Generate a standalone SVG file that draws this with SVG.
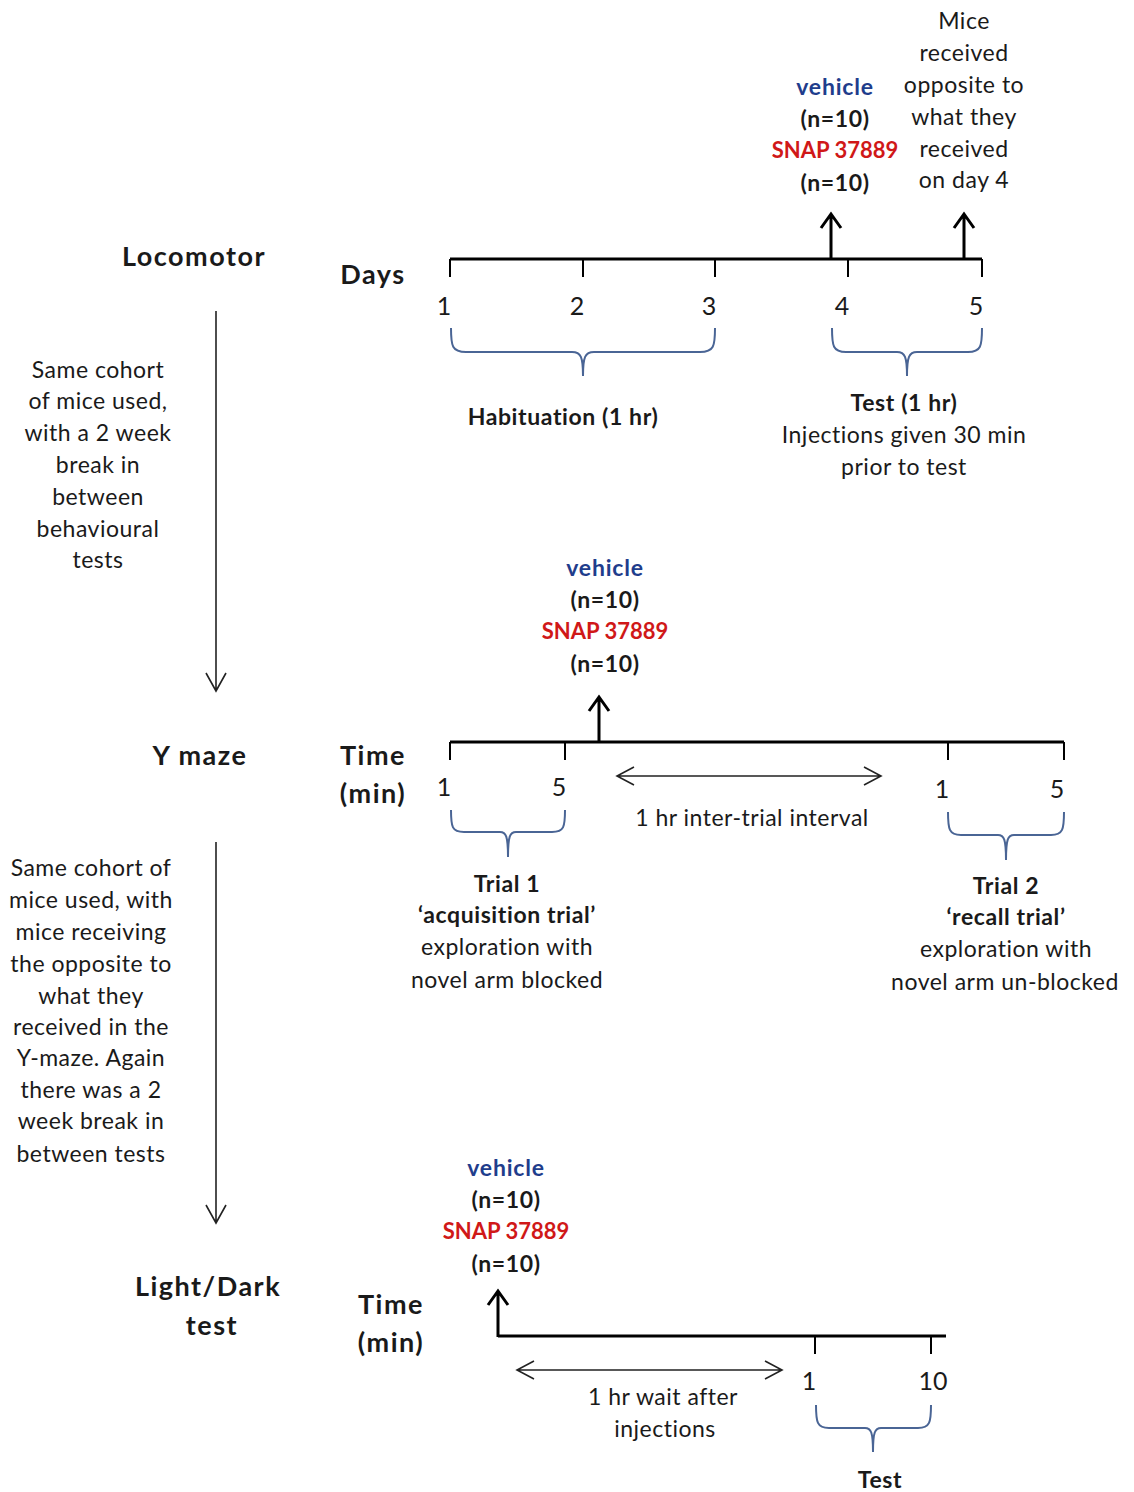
<svg xmlns="http://www.w3.org/2000/svg" width="1134" height="1492" viewBox="0 0 1134 1492">
<style>
text{font-family:Lato,"Liberation Sans",sans-serif;font-size:23px;letter-spacing:0.5px;fill:#1a1a1a;text-anchor:middle}
.b{font-weight:bold;letter-spacing:0.6px}
.h{font-weight:bold;font-size:27px;letter-spacing:1.5px}
.num{font-size:25px;letter-spacing:0}
.blue{fill:#1f3d8c;font-weight:bold;letter-spacing:0.8px}
.red{fill:#d01818;font-weight:bold;font-size:22px;letter-spacing:0}
.axis{stroke:#000;stroke-width:3;fill:none}
.tick{stroke:#000;stroke-width:2;fill:none}
.up{stroke:#000;stroke-width:3;fill:none}
.thin{stroke:#222;stroke-width:1.6;fill:none}
.brace{stroke:#4a6595;stroke-width:2;fill:none}
</style>
<rect width="1134" height="1492" fill="#fff"/>

<g id="locomotor">
<text class="h" x="194" y="266">Locomotor</text>
<text class="h" x="373" y="284">Days</text>
<text class="num" x="444" y="315">1</text>
<text class="num" x="577" y="315">2</text>
<text class="num" x="709" y="315">3</text>
<text class="num" x="842" y="315">4</text>
<text class="num" x="976" y="315">5</text>
<text class="blue" x="835" y="95">vehicle</text>
<text class="b" x="835" y="127">(n=10)</text>
<text class="red" x="835" y="158">SNAP 37889</text>
<text class="b" x="835" y="191">(n=10)</text>
<text x="964" y="29">Mice</text>
<text x="964" y="61">received</text>
<text x="964" y="93">opposite to</text>
<text x="964" y="125">what they</text>
<text x="964" y="157">received</text>
<text x="964" y="188">on day 4</text>
<text class="b" x="563" y="425">Habituation (1 hr)</text>
<text class="b" x="904" y="411">Test (1 hr)</text>
<text x="904" y="443">Injections given 30 min</text>
<text x="904" y="475">prior to test</text>
</g>

<g id="note1">
<text x="98" y="378">Same cohort</text>
<text x="98" y="409">of mice used,</text>
<text x="98" y="441">with a 2 week</text>
<text x="98" y="473">break in</text>
<text x="98" y="505">between</text>
<text x="98" y="537">behavioural</text>
<text x="98" y="568">tests</text>
</g>

<g id="ymaze">
<text class="h" x="200" y="765">Y maze</text>
<text class="h" x="373" y="765">Time</text>
<text class="h" x="373" y="803">(min)</text>
<text class="num" x="444" y="796">1</text>
<text class="num" x="559" y="796">5</text>
<text class="num" x="942" y="798">1</text>
<text class="num" x="1057" y="798">5</text>
<text class="blue" x="605" y="576">vehicle</text>
<text class="b" x="605" y="608">(n=10)</text>
<text class="red" x="605" y="639">SNAP 37889</text>
<text class="b" x="605" y="672">(n=10)</text>
<text x="752" y="826">1 hr inter-trial interval</text>
<text class="b" x="507" y="892">Trial 1</text>
<text class="b" x="507" y="923">‘acquisition trial’</text>
<text x="507" y="955">exploration with</text>
<text x="507" y="988">novel arm blocked</text>
<text class="b" x="1006" y="894">Trial 2</text>
<text class="b" x="1006" y="925">‘recall trial’</text>
<text x="1006" y="957">exploration with</text>
<text x="1005" y="990">novel arm un-blocked</text>
</g>

<g id="note2">
<text x="91" y="876">Same cohort of</text>
<text x="91" y="908">mice used, with</text>
<text x="91" y="940">mice receiving</text>
<text x="91" y="972">the opposite to</text>
<text x="91" y="1004">what they</text>
<text x="91" y="1035">received in the</text>
<text x="91" y="1066">Y-maze. Again</text>
<text x="91" y="1098">there was a 2</text>
<text x="91" y="1129">week break in</text>
<text x="91" y="1162">between tests</text>
</g>

<g id="lightdark">
<text class="h" x="208" y="1296">Light/Dark</text>
<text class="h" x="212" y="1335">test</text>
<text class="h" x="391" y="1314">Time</text>
<text class="h" x="391" y="1352">(min)</text>
<text class="num" x="809" y="1390">1</text>
<text class="num" x="933" y="1390">10</text>
<text class="blue" x="506" y="1176">vehicle</text>
<text class="b" x="506" y="1208">(n=10)</text>
<text class="red" x="506" y="1239">SNAP 37889</text>
<text class="b" x="506" y="1272">(n=10)</text>
<text x="663" y="1405">1 hr wait after</text>
<text x="665" y="1437">injections</text>
<text class="b" x="880" y="1488">Test</text>
</g>

<g id="connectors">
<path class="axis" d="M450,259 H982"/>
<path class="tick" d="M450,259 V277 M583,259 V277 M715,259 V277 M848,259 V277 M982,259 V277"/>
<path class="up" d="M831,259 V214 M821,228 L831,214 L841,228"/>
<path class="up" d="M964,259 V214 M954,228 L964,214 L974,228"/>
<path class="brace" d="M451,328 C451,346 452,352 466,352 L572,352 C581,352 583,357 583,376 C583,357 585,352 594,352 L700,352 C714,352 715,346 715,328"/>
<path class="brace" d="M832,328 C832,346 833,352 846,352 L897,352 C905,352 907,357 907,376 C907,357 909,352 917,352 L968,352 C981,352 982,346 982,328"/>
<path class="thin" d="M216,311 V691 M206,673 L216,691 L226,673"/>
<path class="axis" d="M450,742 H1064"/>
<path class="tick" d="M450,742 V760 M565,742 V760 M948,742 V760 M1064,742 V760"/>
<path class="up" d="M599,742 V697 M589,711 L599,697 L609,711"/>
<path class="thin" d="M617,776 H881 M634,767 L617,776 L634,785 M864,767 L881,776 L864,785"/>
<path class="brace" d="M451,810 C451,827 452,832 464,832 L500,832 C506,832 508,836 508,857 C508,836 510,832 516,832 L552,832 C564,832 565,827 565,810"/>
<path class="brace" d="M948,812 C948,829 949,835 961,835 L998,835 C1004,835 1006,839 1006,860 C1006,839 1008,835 1014,835 L1051,835 C1063,835 1064,829 1064,812"/>
<path class="thin" d="M216,842 V1223 M206,1205 L216,1223 L226,1205"/>
<path class="axis" d="M498,1336 H946"/>
<path class="up" d="M498,1337 V1291 M488,1305 L498,1291 L508,1305"/>
<path class="tick" d="M815,1336 V1354 M931,1336 V1354"/>
<path class="thin" d="M517,1370 H782 M534,1361 L517,1370 L534,1379 M765,1361 L782,1370 L765,1379"/>
<path class="brace" d="M816,1405 C816,1422 817,1428 829,1428 L865,1428 C871,1428 873,1432 873,1452 C873,1432 875,1428 881,1428 L918,1428 C930,1428 931,1422 931,1405"/>
</g>
</svg>
